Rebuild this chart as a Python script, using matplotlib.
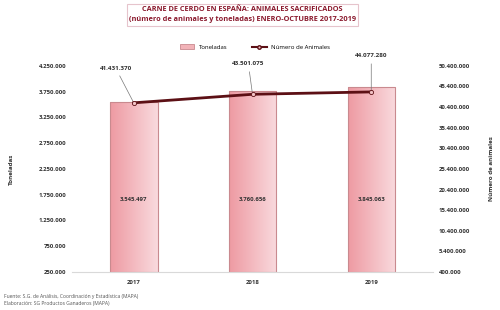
import numpy as np
import matplotlib
matplotlib.use('Agg')
import matplotlib.pyplot as plt
from matplotlib.colors import LinearSegmentedColormap
from matplotlib.lines import Line2D
from matplotlib.patches import Patch

# datos
years = ['2017', '2018', '2019']
toneladas = [3545497, 3760656, 3845063]
animales = [41431370, 43501075, 44077280]
left_ticks = [250000 + 500000 * i for i in range(9)]
right_ticks = [400000 + 5000000 * i for i in range(11)]

def fmt(v):
    return f'{v:,}'.replace(',', '.')

plt.rcParams['font.family'] = ['Open Sans', 'DejaVu Sans']

fig = plt.figure(figsize=(5, 3.1), dpi=100)
ax = fig.add_axes([0.144, 0.1226, 0.722, 0.665])
ax2 = ax.twinx()

x = np.arange(len(years))
w = 0.4
cmap = LinearSegmentedColormap.from_list('rosa', ['#ee9aa2', '#f9dade'])
grad = np.linspace(0, 1, 256).reshape(1, -1)
bars = ax.bar(x, np.array(toneladas) - 250000, w, bottom=250000,
              color='none', edgecolor='#c98a8f', linewidth=0.8, zorder=2)
for b in bars:
    im = ax.imshow(grad, cmap=cmap, aspect='auto', zorder=1,
                   extent=[b.get_x(), b.get_x() + b.get_width(),
                           b.get_y(), b.get_y() + b.get_height()])
    im.set_clip_path(b)

for i, v in enumerate(toneladas):
    ax.text(x[i], 1650000, fmt(v), ha='center', va='center', fontsize=4.3,
            color='#333333', fontweight='bold')

ax.set_ylim(250000, 4250000)
ax.set_yticks(left_ticks)
ax.set_yticklabels([fmt(t) for t in left_ticks])
ax.set_xticks(x)
ax.set_xticklabels(years)
ax.set_ylabel('Toneladas', fontsize=4.5, fontweight='bold', labelpad=18, color='#333333')

ax2.plot(x, animales, color='#5c1015', linewidth=2, marker='o', markersize=3,
         markerfacecolor='#f3c3c6', markeredgecolor='#5c1015', markeredgewidth=0.6, zorder=5)
ax2.set_ylim(400000, 50400000)
ax2.set_yticks(right_ticks)
ax2.set_yticklabels([fmt(t) for t in right_ticks])
ax2.set_ylabel('Número de animales', fontsize=4.5, fontweight='bold', labelpad=14, color='#333333')

offs = [(-13, 25), (-3, 22), (0, 26)]
for i, v in enumerate(animales):
    ax2.annotate(fmt(v), (x[i], v), xytext=offs[i], textcoords='offset points',
                 ha='center', va='center', fontsize=4.5, color='#333333', fontweight='bold',
                 arrowprops=dict(arrowstyle='-', color='#777777', lw=0.5, shrinkA=2, shrinkB=1))

for a in (ax, ax2):
    for s in a.spines.values():
        s.set_visible(False)
    a.tick_params(length=0, labelsize=4.3, colors='#333333')
    for lab in a.get_yticklabels() + a.get_xticklabels():
        lab.set_fontweight('bold')
ax.spines['bottom'].set_visible(True)
ax.spines['bottom'].set_color('#d9d9d9')
ax.spines['bottom'].set_linewidth(0.8)
ax.set_xlim(-0.52, 2.52)
ax.tick_params(axis='x', pad=6)
ax.tick_params(axis='y', pad=4)
ax2.tick_params(axis='y', pad=4)

fig.text(0.485, 0.952, 'CARNE DE CERDO EN ESPAÑA: ANIMALES SACRIFICADOS\n(número de animales y toneladas) ENERO-OCTUBRE 2017-2019',
         ha='center', va='center', fontsize=5.3, fontweight='bold', color='#8b1a2e',
         linespacing=1.6,
         bbox=dict(boxstyle='square,pad=0.3', facecolor='white', edgecolor='#e6c4cc', linewidth=0.8))

handles = [Patch(facecolor='#f2b3b8', edgecolor='#c98a8f', linewidth=0.6),
           Line2D([0], [0], color='#5c1015', lw=1.5, marker='o', markersize=2.5,
                  markerfacecolor='#f3c3c6', markeredgecolor='#5c1015')]
fig.legend(handles, ['Toneladas', 'Número de Animales'], loc='center', bbox_to_anchor=(0.51, 0.848),
           ncol=2, frameon=False, fontsize=4.3, handlelength=2.5, handleheight=0.8, columnspacing=4)

fig.text(0.008, 0.033, 'Fuente: S.G. de Análisis, Coordinación y Estadística (MAPA)\nElaboración: SG Productos Ganaderos (MAPA)',
         ha='left', va='center', fontsize=3.6, color='#555555', linespacing=1.5)

fig.savefig('out.png', dpi=100)
